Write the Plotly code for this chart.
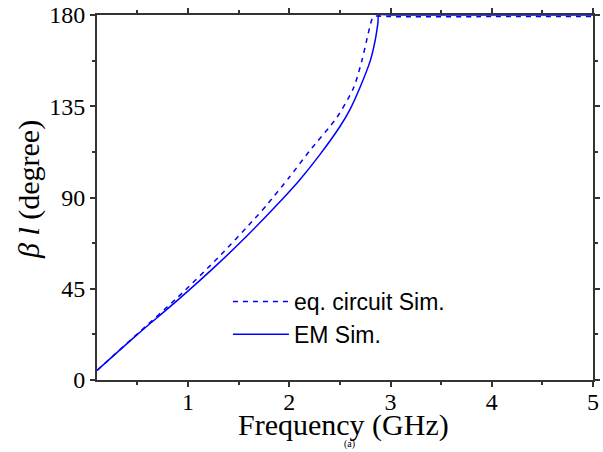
import plotly.graph_objects as go

# EM simulation (solid)
em_freq = [0.1, 0.5, 0.9, 1.3, 1.6, 1.9, 2.1, 2.3, 2.5, 2.6, 2.7, 2.8, 2.85, 2.875, 2.885, 3.0, 4.0, 5.0]
em_beta = [4.7, 22.5, 39.5, 57.5, 72.0, 87.5, 98.5, 111.0, 125.0, 133.5, 144.5, 157.5, 168.0, 176.0, 180.0, 180.0, 180.0, 180.0]

# equivalent circuit simulation (dashed)
eq_freq = [0.1, 0.5, 0.9, 1.3, 1.66, 1.79, 2.0, 2.2, 2.47, 2.634, 2.717, 2.78, 2.816, 2.84, 3.0, 4.0, 5.0]
eq_beta = [4.7, 22.8, 40.9, 60.5, 79.7, 87.1, 100.0, 113.0, 129.5, 144.0, 157.5, 171.0, 177.8, 179.3, 179.2, 179.2, 179.2]

x_ticks = [1, 2, 3, 4, 5]
y_ticks = [0, 45, 90, 135, 180]

fig = go.Figure()
fig.add_trace(go.Scatter(x=eq_freq, y=eq_beta, mode="lines", name="eq. circuit Sim.",
                         line=dict(color="#0000ff", width=1.5, dash="5px,5px", shape="spline", smoothing=0.7)))
fig.add_trace(go.Scatter(x=em_freq, y=em_beta, mode="lines", name="EM Sim.",
                         line=dict(color="#0000ff", width=1.5, shape="spline", smoothing=0.7)))

axis_common = dict(showline=True, linecolor="#333333", linewidth=2, mirror="allticks",
                   ticks="outside", ticklen=5, tickwidth=1.5, tickcolor="#333333",
                   showgrid=False, zeroline=False, automargin=False,
                   tickfont=dict(family="Liberation Serif", size=24, color="black"))

fig.update_xaxes(range=[0.1, 5], tickvals=x_ticks, ticklabelstandoff=-6,
                 minor=dict(dtick=0.5, tick0=0, ticks="outside", ticklen=3, tickcolor="#333333"),
                 **axis_common)
fig.update_yaxes(range=[0, 180], tickvals=y_ticks,
                 minor=dict(dtick=22.5, tick0=0, ticks="outside", ticklen=3, tickcolor="#333333"),
                 **axis_common)

# axis titles placed as annotations for exact positioning
fig.add_annotation(text="Frequency (GHz)", x=0.5, y=-0.122, xref="paper", yref="paper", showarrow=False,
                   yanchor="middle", xshift=-2, font=dict(family="Liberation Serif", size=30, color="black"))
fig.add_annotation(text="<i>β l</i> (degree)", x=-0.137, y=0.5205, xref="paper", yref="paper",
                   showarrow=False, textangle=-90, xanchor="center", yanchor="middle",
                   font=dict(family="Liberation Serif", size=30, color="black"))
fig.add_annotation(text="(a)", x=0.5, y=-0.197, xref="paper", yref="paper", showarrow=False,
                   yanchor="bottom", xshift=4, font=dict(family="Liberation Serif", size=10, color="black"))

fig.update_layout(
    width=603, height=452,
    margin=dict(l=97, r=10, t=15, b=72),
    plot_bgcolor="white", paper_bgcolor="white",
    legend=dict(x=0.264, y=0.274, xanchor="left", yanchor="top", bgcolor="rgba(0,0,0,0)",
                itemwidth=56,
                font=dict(family="Liberation Sans", size=23, color="black")),
)

fig.write_html("out.html", config={"displayModeBar": False},
               post_script="document.body.style.margin='0';")
